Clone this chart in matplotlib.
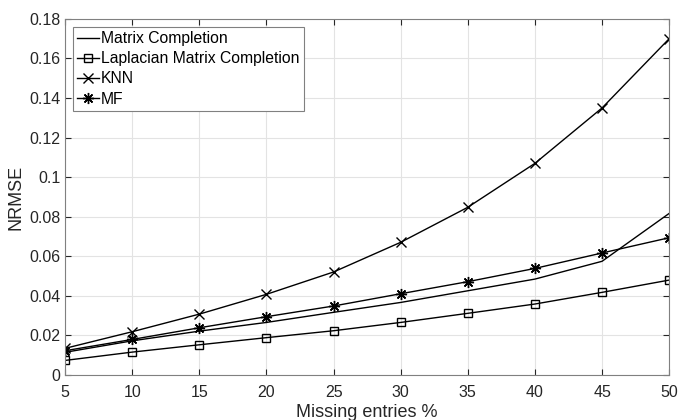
import matplotlib
matplotlib.use('Agg')
import matplotlib.pyplot as plt

plt.rcParams['font.family'] = ['Liberation Sans', 'DejaVu Sans']

# missing entries (%)
missing = [5, 10, 15, 20, 25, 30, 35, 40, 45, 50]

# NRMSE for each method
mc = [0.0115, 0.0173, 0.0222, 0.0266, 0.0317, 0.0367, 0.0426, 0.0485, 0.0575, 0.0817]
lap_mc = [0.0074, 0.0116, 0.0153, 0.0189, 0.0224, 0.0266, 0.0312, 0.0359, 0.0418, 0.0480]
knn = [0.0135, 0.0219, 0.0308, 0.0408, 0.0521, 0.0671, 0.0848, 0.1070, 0.1350, 0.1700]
mf = [0.0123, 0.0180, 0.0239, 0.0295, 0.0349, 0.0411, 0.0472, 0.0539, 0.0617, 0.0694]

fig = plt.figure(figsize=(6.78, 4.2), dpi=100)
ax = fig.add_axes([0.096, 0.107, 0.891, 0.848])

ax.plot(missing, mc, color='k', lw=1, label='Matrix Completion')
ax.plot(missing, lap_mc, color='k', lw=1, marker='s', ms=6, mfc='none', mew=1,
        label='Laplacian Matrix Completion')
ax.plot(missing, knn, color='k', lw=1, marker='x', ms=7, mew=1, label='KNN')
ax.plot(missing, mf, color='k', lw=1, marker=(8, 2, 0), ms=8, mew=1, label='MF')

ax.set_xlim(5, 50)
ax.set_ylim(0, 0.18)
ax.set_xticks(range(5, 51, 5))
ax.set_yticks([i * 0.02 for i in range(10)])
ax.set_yticklabels(['0', '0.02', '0.04', '0.06', '0.08', '0.1', '0.12', '0.14', '0.16', '0.18'])
ax.grid(True, color='#e3e3e3', lw=0.8)
ax.set_axisbelow(True)
for s in ax.spines.values():
    s.set_color('#808080')
    s.set_linewidth(0.8)
ax.tick_params(direction='in', top=True, right=True, colors='#262626',
               labelsize=11.5, length=4, width=0.8)
ax.tick_params(axis='x', pad=7)
ax.set_xlabel('Missing entries %', fontsize=13, color='#262626', labelpad=3)
ax.set_ylabel('NRMSE', fontsize=13, color='#262626', labelpad=3)

leg = ax.legend(loc='upper left', bbox_to_anchor=(0.0127, 0.978), borderaxespad=0,
                fontsize=11.3, fancybox=False, framealpha=1, edgecolor='#808080',
                handlelength=1.4, handletextpad=0.1, labelspacing=0.32,
                borderpad=0.3)
leg.get_frame().set_linewidth(0.8)

fig.savefig('out.png', dpi=100)
